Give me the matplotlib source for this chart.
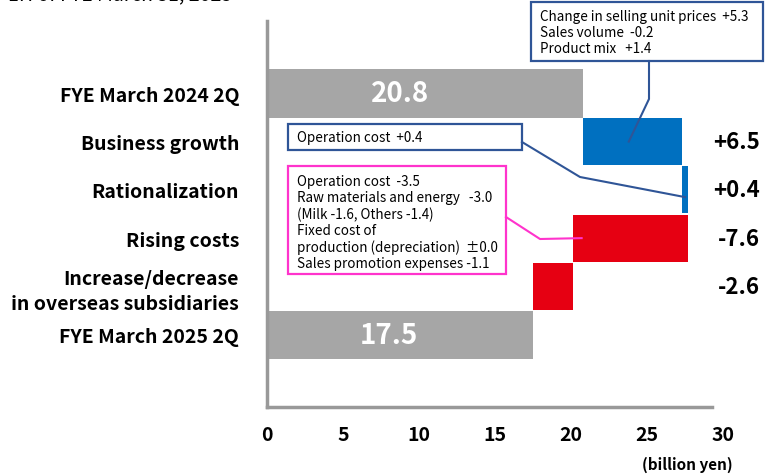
import numpy as np
import matplotlib
matplotlib.use('Agg')
import matplotlib.pyplot as plt
from matplotlib.patches import Rectangle
from matplotlib.lines import Line2D

plt.rcParams['font.family'] = ['Noto Sans CJK JP', 'DejaVu Sans']

# Data (billion yen)
categories = ['FYE March 2024 2Q', 'Business growth', 'Rationalization', 'Rising costs',
              'Increase/decrease\nin overseas subsidiaries', 'FYE March 2025 2Q']
start_value = 20.8
changes = [6.5, 0.4, -7.6, -2.6]
end_value = 17.5
change_labels = ['+6.5', '+0.4', '-7.6', '-2.6']
xticks = [0, 5, 10, 15, 20, 25, 30]

gray = '#a6a6a6'
blue = '#0070c0'
red = '#e60012'
box_blue = '#2f5597'
pink = '#ff33cc'

W, H = 765, 477
fig = plt.figure(figsize=(W / 100, H / 100), dpi=100)
ax = fig.add_axes([267 / W, 1 - 408 / H, (723 - 267) / W, (408 - 22) / H])
ax.set_xlim(0, 30)
ax.set_ylim(6.5, -1.5)

# waterfall bars
ax.barh(0, start_value, height=1.0, color=gray)
ax.text(start_value * 0.42, 0, f'{start_value}', color='white', fontsize=20,
        fontweight='bold', ha='center', va='center')
level = start_value
for i, ch in enumerate(changes):
    left = level if ch > 0 else level + ch
    ax.barh(i + 1, abs(ch), left=left, height=0.97, color=blue if ch > 0 else red)
    ax.text(32.4, i + 1, change_labels[i], fontsize=16, fontweight='bold',
            ha='right', va='center', clip_on=False)
    level += ch
ax.barh(5, end_value, height=1.0, color=gray)
ax.text(end_value * 0.46, 5, f'{end_value}', color='white', fontsize=20,
        fontweight='bold', ha='center', va='center')

# axes styling
for s in ['top', 'right']:
    ax.spines[s].set_visible(False)
for s in ['left', 'bottom']:
    ax.spines[s].set_color('#999999')
    ax.spines[s].set_linewidth(2.5)
ax.spines['bottom'].set_bounds(0, 29.3)
ax.set_xticks(xticks)
ax.set_xticklabels([str(t) for t in xticks], fontsize=14, fontweight='bold')
ax.set_yticks(range(len(categories)))
ax.set_yticklabels(categories, fontsize=14, fontweight='bold', linespacing=1.4)
ax.tick_params(axis='x', length=0, pad=13)
ax.tick_params(axis='y', length=0, pad=20)

fig.text(733 / W, 1 - 465 / H, '(billion yen)', fontsize=11, fontweight='bold',
         ha='right', va='center')
fig.text(8 / W, 1 + 5 / H, '1H of FYE March 31, 2025', fontsize=14,
         ha='left', va='center')


# annotation boxes (figure pixel layout)
def px_rect(x0, y0, x1, y1, color):
    fig.add_artist(Rectangle((x0, H - y1), x1 - x0, y1 - y0, transform=None,
                             fill=True, facecolor='white', edgecolor=color, lw=1.6))


def px_line(points, color):
    xs = [p[0] for p in points]
    ys = [H - p[1] for p in points]
    fig.add_artist(Line2D(xs, ys, transform=None, color=color, lw=1.5))


def data_px(x, y):
    dx, dy = ax.transData.transform((x, y))
    return dx, H - dy


px_line([(649, 62), (649, 100), data_px(23.8, 1)], box_blue)
px_line([(522, 143), (580, 178), data_px(27.5, 2.15)], box_blue)
px_line([(506, 218), (540, 240), data_px(20.7, 3)], pink)

px_rect(531, 3, 763, 62, box_blue)
fig.text(540 / W, 1 - 33 / H,
         'Change in selling unit prices  +5.3\nSales volume  -0.2\nProduct mix   +1.4',
         fontsize=9.7, ha='left', va='center', linespacing=1.2)

px_rect(288, 125, 522, 151, box_blue)
fig.text(297 / W, 1 - 138 / H, 'Operation cost  +0.4', fontsize=9.7,
         ha='left', va='center')

px_rect(288, 167, 506, 275, pink)
fig.text(297 / W, 1 - 223 / H,
         'Operation cost  -3.5\nRaw materials and energy   -3.0\n(Milk -1.6, Others -1.4)\n'
         'Fixed cost of\nproduction (depreciation)  \u00b10.0\nSales promotion expenses -1.1',
         fontsize=9.7, ha='left', va='center', linespacing=1.2)

fig.savefig('out.png', dpi=100)
